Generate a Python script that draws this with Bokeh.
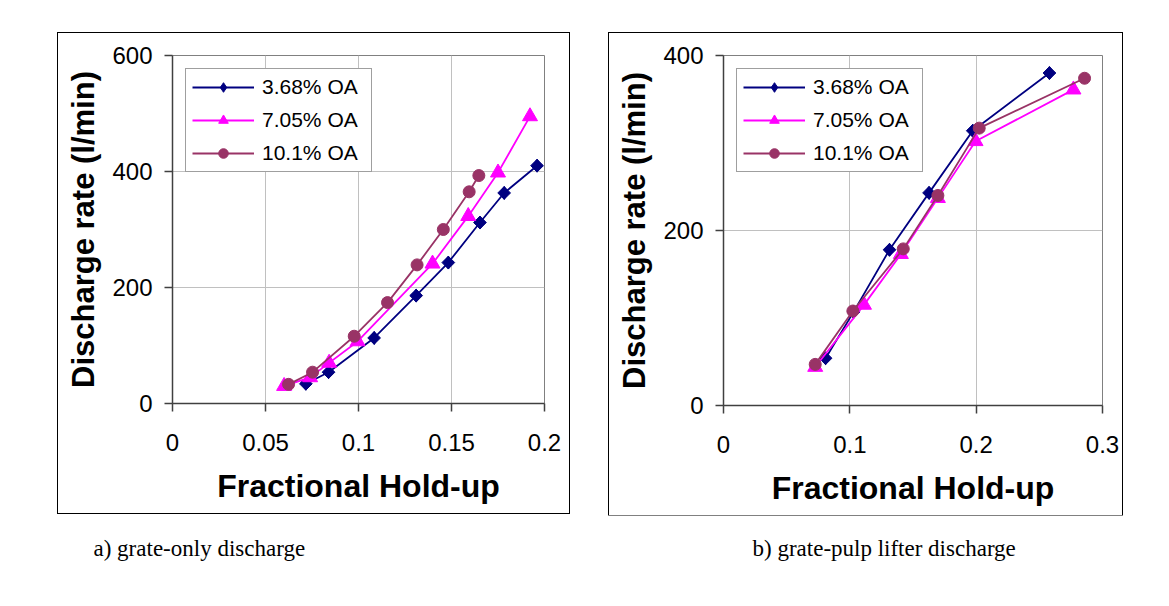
import numpy as np
from bokeh.plotting import figure
from bokeh.models import (Range1d, FixedTicker, CustomJSTickFormatter, Legend,
                          LegendItem, Spacer)
from bokeh.layouts import row, column
from bokeh.embed import file_html
from bokeh.resources import INLINE
from bokeh.core.properties import value

# ---------------- data ----------------
series_labels = ["3.68% OA", "7.05% OA", "10.1% OA"]

# a) grate-only discharge
a_x_368 = [0.0717, 0.0839, 0.1084, 0.1310, 0.1483, 0.1653, 0.1783, 0.1960]
a_y_368 = [34, 54, 113, 186, 243, 312, 363, 410]
a_x_705 = [0.0600, 0.0740, 0.0842, 0.0995, 0.1398, 0.1590, 0.1750, 0.1922]
a_y_705 = [30, 45, 70, 107, 241, 323, 398, 495]
a_x_101 = [0.0624, 0.0753, 0.0977, 0.1156, 0.1315, 0.1456, 0.1595, 0.1647]
a_y_101 = [33, 54, 116, 174, 239, 300, 365, 393]

# b) grate-pulp lifter discharge
b_x_368 = [0.0808, 0.1030, 0.1314, 0.1627, 0.1973, 0.2580]
b_y_368 = [54, 107, 178, 243, 314, 380]
b_x_705 = [0.0726, 0.1112, 0.1404, 0.1697, 0.1995, 0.2770]
b_y_705 = [44, 115, 173, 237, 302, 361]
b_x_101 = [0.0726, 0.1024, 0.1423, 0.1697, 0.2024, 0.2858]
b_y_101 = [47, 108, 179, 240, 317, 374]

a_xticks = [0, 0.05, 0.1, 0.15, 0.2]
a_yticks = [0, 200, 400, 600]
b_xticks = [0, 0.1, 0.2, 0.3]
b_yticks = [0, 200, 400]

x_label = "Fractional Hold-up"
y_label = "Discharge rate (l/min)"
captions = ["a) grate-only discharge", "b) grate-pulp lifter discharge"]

# ---------------- styling ----------------
colors = ["#000080", "#FF00FF", "#993366"]
SANS = "Liberation Sans"
AXIS_COL = "#404040"

fmt = CustomJSTickFormatter(code="return String(Math.round(tick*1000)/1000);")


def make_panel(series, xmax, ymax, xticks, yticks, w, h, bl, br, bt, bb):
    p = figure(width=w, height=h, x_range=Range1d(0, xmax), y_range=Range1d(0, ymax),
               output_backend="svg", toolbar_location=None,
               min_border_left=bl, min_border_right=br,
               min_border_top=bt, min_border_bottom=bb,
               background_fill_color="white", border_fill_color="white",
               styles={"outline": "1.5px solid #000000"})
    p.outline_line_color = "#808080"
    p.outline_line_width = 1

    p.xaxis.ticker = FixedTicker(ticks=xticks)
    p.yaxis.ticker = FixedTicker(ticks=yticks)
    p.xaxis.formatter = fmt
    p.yaxis.formatter = fmt
    for ax in (p.xaxis[0], p.yaxis[0]):
        ax.axis_line_color = AXIS_COL
        ax.axis_line_width = 1.5
        ax.major_tick_line_color = AXIS_COL
        ax.major_tick_line_width = 1.5
        ax.major_tick_out = 8
        ax.major_tick_in = 0
        ax.minor_tick_line_color = None
        ax.major_label_text_font = SANS
        ax.major_label_text_font_size = "24px"
        ax.major_label_text_color = "black"
        ax.axis_label_text_font = SANS
        ax.axis_label_text_font_style = "bold"
        ax.axis_label_text_color = "black"
    p.xaxis.axis_label = x_label
    p.yaxis.axis_label = y_label
    p.xaxis.axis_label_text_font_size = "32px"
    p.yaxis.axis_label_text_font_size = "31px"
    p.xaxis.major_label_standoff = 22
    p.xaxis.axis_label_standoff = 14
    p.yaxis.major_label_standoff = 12
    p.yaxis.axis_label_standoff = 8
    p.yaxis.major_label_orientation = "horizontal"

    for g in (p.xgrid[0], p.ygrid[0]):
        g.grid_line_color = "#c0c0c0"
        g.grid_line_width = 1

    items = []
    for i, ((xs, ys), col, lab) in enumerate(zip(series, colors, series_labels)):
        lr = p.line(xs, ys, line_color=col, line_width=1.8)
        if i == 0:
            # upright diamond (legend swatch), covered by the rotated square
            sw = p.scatter(xs, ys, marker="diamond", size=13,
                           fill_color=col, line_color=col)
            p.scatter(xs, ys, marker="square", size=9, angle=np.pi / 4,
                      fill_color=col, line_color=col)
        elif i == 1:
            sw = p.scatter(xs, ys, marker="triangle", size=15,
                           fill_color=col, line_color=col)
        else:
            sw = p.scatter(xs, ys, marker="circle", size=12,
                           fill_color=col, line_color=col)
        items.append(LegendItem(label=lab, renderers=[lr, sw]))

    leg = Legend(items=items, location="top_left", margin=13,
                 label_text_font=SANS, label_text_font_size="21px",
                 label_text_color="black",
                 glyph_width=62, glyph_height=24, label_height=24, label_width=103,
                 spacing=9, padding=6, label_standoff=8,
                 border_line_color="#404040", border_line_width=1,
                 background_fill_color="white", background_fill_alpha=1.0)
    p.add_layout(leg, "center")
    return p


pa = make_panel([(a_x_368, a_y_368), (a_x_705, a_y_705), (a_x_101, a_y_101)],
                0.2, 600, a_xticks, a_yticks, 511, 480, 114, 25, 21, 109)
pb = make_panel([(b_x_368, b_y_368), (b_x_705, b_y_705), (b_x_101, b_y_101)],
                0.3, 400, b_xticks, b_yticks, 513, 482, 114, 20, 22, 110)

cap = figure(width=1169, height=91, x_range=Range1d(0, 1169), y_range=Range1d(0, 91),
             output_backend="svg", toolbar_location=None, min_border=0,
             x_axis_type=None, y_axis_type=None, outline_line_color=None,
             background_fill_color="white", border_fill_color="white")
cap.xgrid.visible = False
cap.ygrid.visible = False
cap.text(x=[93, 752], y=[58, 58], text=captions,
         text_font=value("Liberation Serif"), text_font_size="23px",
         text_align="left", text_baseline="middle", text_color="black")

layout = column(Spacer(height=33, width=1169),
                row(Spacer(width=58, height=482), pa, Spacer(width=40, height=482), pb),
                cap)

open("out.html", "w").write(file_html(layout, INLINE))
